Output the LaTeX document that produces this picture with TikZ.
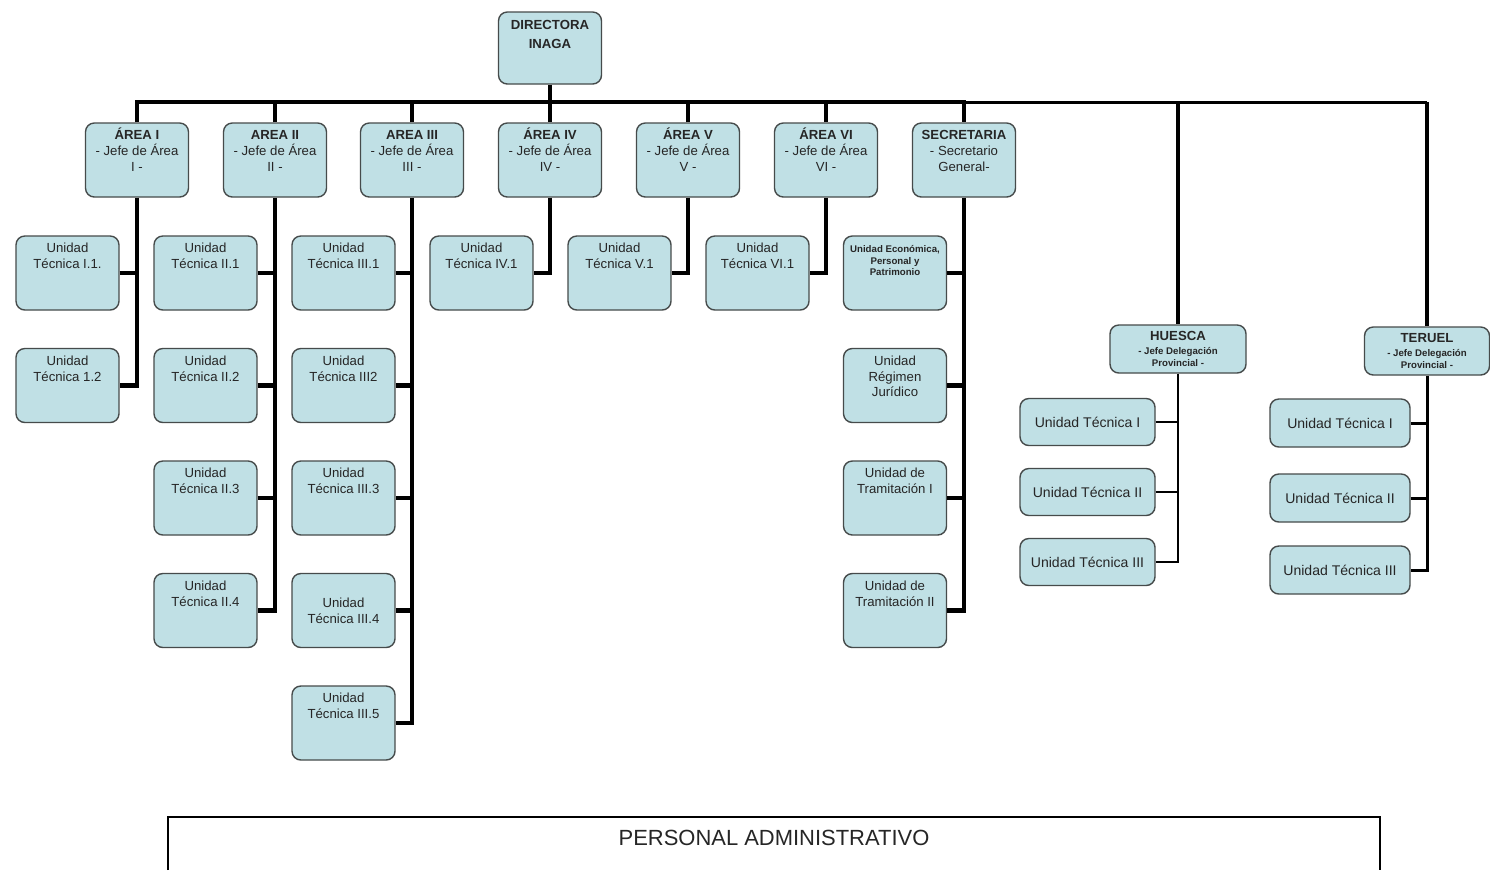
\documentclass[tikz,border=0pt]{standalone}
\usepackage{fontspec}
\setmainfont{Liberation Sans}
\usepackage{tikz}
\usetikzlibrary{positioning}

\definecolor{boxblue}{RGB}{192,224,229}
\definecolor{boxline}{RGB}{70,75,75}

% text kept at the top of a fixed-size box
\newcommand{\toptext}[2][1.3cm]{\parbox[c][#1][t]{1.9cm}{\centering\rule{0pt}{7pt}#2}}
\newcommand{\delegsub}[1]{{\fontsize{5.5}{6.5}\selectfont\bfseries #1}}

\tikzset{
  orgbox/.style={draw=boxline, fill=boxblue, rounded corners=5pt, line width=0.8pt,
    inner sep=2pt, minimum width=2.06cm, minimum height=1.48cm, align=center,
    text=black!85, font=\fontsize{7.5}{9}\selectfont},
  delegbox/.style={orgbox, minimum width=2.72cm, minimum height=0.96cm},
  delegunit/.style={orgbox, minimum width=2.7cm, minimum height=0.94cm,
    font=\fontsize{8}{9}\selectfont},
  bus/.style={line width=2.8pt},
  thinbus/.style={line width=1.7pt},
  wire/.style={line width=1.1pt},
}

\begin{document}
\begin{tikzpicture}[x=0.02cm, y=-0.02cm]

  \useasboundingbox (0,0) rectangle (1490,870);
  \fill[white] (0,0) rectangle (1490,870);

  % top of the chart
  \node[orgbox, minimum height=1.44cm] (dir) at (550,48)
    {\toptext[1.25cm]{\bfseries DIRECTORA\\[2pt]INAGA}};

  % areas and secretaria
  \foreach \n/\x/\t in {
      1/137/{\textbf{ÁREA I}\\- Jefe de Área\\I -},
      2/275/{\textbf{AREA II}\\- Jefe de Área\\II -},
      3/412/{\textbf{AREA III}\\- Jefe de Área\\III -},
      4/550/{\textbf{ÁREA IV}\\- Jefe de Área\\IV -},
      5/688/{\textbf{ÁREA V}\\- Jefe de Área\\V -},
      6/826/{\textbf{ÁREA VI}\\- Jefe de Área\\VI -},
      7/964/{\textbf{SECRETARIA}\\- Secretario\\General-}}
    \node[orgbox] (a\n) at (\x,160) {\toptext{\t}};

  % units of area I
  \node[orgbox] (u11) at (67.5,273) {\toptext{Unidad\\Técnica I.1.}};
  \node[orgbox] (u12) at (67.5,385.5) {\toptext{Unidad\\Técnica 1.2}};

  % units of area II
  \foreach \k/\y in {1/273,2/385.5,3/498,4/610.5}
    \node[orgbox] (u2\k) at (205.5,\y) {\toptext{Unidad\\Técnica II.\k}};

  % units of area III
  \node[orgbox] (u31) at (343.5,273) {\toptext{Unidad\\Técnica III.1}};
  \node[orgbox] (u32) at (343.5,385.5) {\toptext{Unidad\\Técnica III2}};
  \node[orgbox] (u33) at (343.5,498) {\toptext{Unidad\\Técnica III.3}};
  \node[orgbox] (u34) at (343.5,610.5) {Unidad\\Técnica III.4};
  \node[orgbox] (u35) at (343.5,723) {\toptext{Unidad\\Técnica III.5}};

  % one unit each for areas IV to VI
  \foreach \n/\x/\r in {4/481.5/IV,5/619.5/V,6/757.5/VI}
    \node[orgbox] (u\n1) at (\x,273) {\toptext{Unidad\\Técnica \r.1}};

  % units of the secretaria
  \node[orgbox] (u71) at (895,273)
    {\toptext{\fontsize{5.5}{6.5}\selectfont\bfseries Unidad Económica,\\Personal y\\Patrimonio}};
  \node[orgbox] (u72) at (895,385.5) {\toptext{Unidad\\Régimen\\Jurídico}};
  \node[orgbox] (u73) at (895,498) {\toptext{Unidad de\\Tramitación I}};
  \node[orgbox] (u74) at (895,610.5) {\toptext{Unidad de\\Tramitación II}};

  % provincial delegations
  \node[delegbox] (huesca) at (1178,349)
    {\textbf{HUESCA}\\[-1pt]\delegsub{- Jefe Delegación}\\[-2pt]\delegsub{Provincial -}};
  \node[delegbox, minimum width=2.5cm] (teruel) at (1427,351)
    {\textbf{TERUEL}\\[-1pt]\delegsub{- Jefe Delegación}\\[-2pt]\delegsub{Provincial -}};

  \node[delegunit] (h1) at (1087.5,422) {Unidad Técnica I};
  \node[delegunit] (h2) at (1087.5,492) {Unidad Técnica II};
  \node[delegunit] (h3) at (1087.5,562) {Unidad Técnica III};

  \node[delegunit, minimum width=2.8cm, minimum height=0.96cm] (t1) at (1340,423) {Unidad Técnica I};
  \node[delegunit, minimum width=2.8cm, minimum height=0.96cm] (t2) at (1340,498) {Unidad Técnica II};
  \node[delegunit, minimum width=2.8cm, minimum height=0.96cm] (t3) at (1340,570) {Unidad Técnica III};

  % main bus
  \coordinate (busy) at (0,102);
  \draw[bus] (dir.south) -- (dir.south |- busy);
  \draw[bus] (a1.north) -- (a1.north |- busy) -- (a7.north |- busy) -- (a7.north);
  \foreach \n in {2,...,6}
    \draw[bus] (a\n.north) -- (a\n.north |- busy);
  \draw[thinbus] (a7.north |- busy) -- (teruel.north |- busy);
  \draw[bus] (huesca.north |- busy) -- (huesca.north);
  \draw[bus] (teruel.north |- busy) -- (teruel.north);

  % area branches
  \draw[bus] (a1.south) |- (u12.east);
  \draw[bus] (u11.east) -- (u11.east -| a1.south);

  \draw[bus] (a2.south) |- (u24.east);
  \foreach \k in {1,2,3}
    \draw[bus] (u2\k.east) -- (u2\k.east -| a2.south);

  \draw[bus] (a3.south) |- (u35.east);
  \foreach \k in {1,...,4}
    \draw[bus] (u3\k.east) -- (u3\k.east -| a3.south);

  \foreach \n in {4,5,6}
    \draw[bus] (a\n.south) |- (u\n1.east);

  \draw[bus] (a7.south) |- (u74.east);
  \foreach \k in {1,2,3}
    \draw[bus] (u7\k.east) -- (u7\k.east -| a7.south);

  % delegation branches
  \draw[wire] (huesca.south) |- (h3.east);
  \foreach \k in {1,2}
    \draw[wire] (h\k.east) -- (h\k.east -| huesca.south);

  \draw[thinbus] (teruel.south) |- (t3.east);
  \foreach \k in {1,2}
    \draw[thinbus] (t\k.east) -- (t\k.east -| teruel.south);

  % staff box at the foot
  \draw[line width=0.8pt] (168,870) -- (168,817) -- (1380,817) -- (1380,870);
  \node[font=\fontsize{12.5}{14}\selectfont, text=black!85] (pers) at (774,838) {PERSONAL ADMINISTRATIVO};

\end{tikzpicture}
\end{document}
